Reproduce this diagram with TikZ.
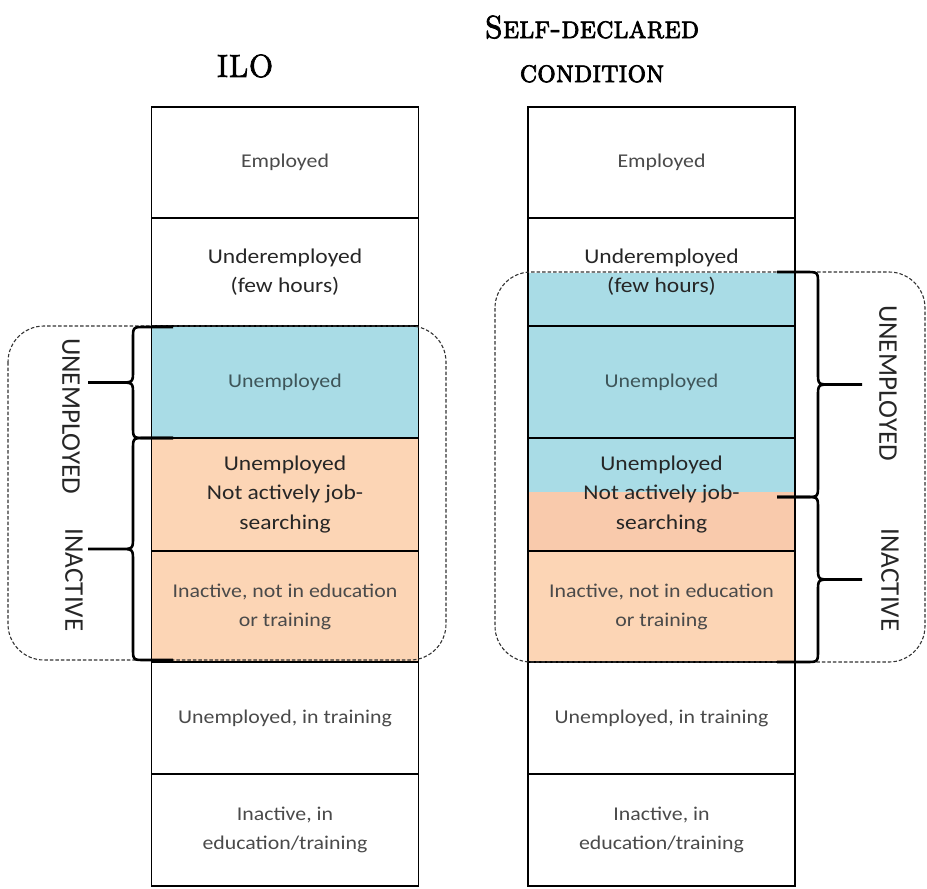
\documentclass[tikz,border=0pt]{standalone}
\usepackage{fontspec}
\usepackage{tikz}
\usetikzlibrary{positioning, backgrounds}
\newfontfamily\cellfont{Carlito}[FakeStretch=1.12]
\newfontfamily\sidefont{Carlito}
\newfontfamily\titlefont{lmromancaps10-regular}[Extension=.otf, FakeBold=2.2, FakeStretch=0.92]
\definecolor{unempblue}{HTML}{A9DCE6}
\definecolor{inactpeach}{HTML}{FCD5B5}
\definecolor{deeppeach}{HTML}{F9CAAC}
\definecolor{softtext}{HTML}{4A4A4A}
\definecolor{bluetext}{HTML}{3E5559}

\begin{document}
\begin{tikzpicture}[x=1pt, y=-1pt,
    cell/.style={rectangle, draw=black, line width=1.2pt, outer sep=0pt, inner sep=2pt,
      minimum width=267pt, align=center, text=softtext,
      font=\cellfont\fontsize{19.5}{29}\selectfont},
    bigcell/.style={cell, text=black!85, font=\cellfont\fontsize{21}{29.5}\selectfont},
    coltitle/.style={font=\titlefont\fontsize{32}{44}\selectfont, align=center},
    sidelabel/.style={rotate=-90, font=\sidefont\fontsize{27}{27}\selectfont, text=black!85},
    groupbox/.style={draw=black!80, line width=1.1pt, dash pattern=on 3.5pt off 2pt, rounded corners=36pt},
    catbrace/.style={draw=black, line width=2.6pt, line join=round}]
  \useasboundingbox (0,0) rectangle (927,889);

  % Titles
  \node[coltitle] (ilotitle) at (245,66) {ILO};
  \node[coltitle] (selftitle) at (592,49) {Self-declared\\condition};

  % ILO column
  \node[cell, minimum height=111pt] (iloemp) at (285,162.5) {Employed};
  \node[bigcell, minimum height=108pt, below=0pt of iloemp] (ilounder) {Underemployed\\(few hours)};
  \node[cell, fill=unempblue, text=bluetext, minimum height=112pt, below=0pt of ilounder] (ilounemp) {Unemployed};
  \node[bigcell, fill=inactpeach, minimum height=113pt, below=0pt of ilounemp] (ilonot) {Unemployed\\Not actively job-\\searching};
  \node[cell, fill=inactpeach, minimum height=111pt, below=0pt of ilonot] (iloinact) {Inactive, not in education\\or training};
  \node[cell, minimum height=112pt, below=0pt of iloinact] (ilotrain) {Unemployed, in training};
  \node[cell, minimum height=112pt, below=0pt of ilotrain] (iloedu) {Inactive, in\\education/training};

  % Self-declared column
  \node[cell, minimum height=111pt] (selfemp) at (661.5,162.5) {Employed};
  \node[bigcell, minimum height=108pt, below=0pt of selfemp] (selfunder) {Underemployed\\(few hours)};
  \node[cell, fill=unempblue, text=bluetext, minimum height=112pt, below=0pt of selfunder] (selfunemp) {Unemployed};
  \node[bigcell, minimum height=113pt, below=0pt of selfunemp] (selfnot) {Unemployed\\Not actively job-\\searching};
  \node[cell, fill=inactpeach, minimum height=111pt, below=0pt of selfnot] (selfinact) {Inactive, not in education\\or training};
  \node[cell, minimum height=112pt, below=0pt of selfinact] (selftrain) {Unemployed, in training};
  \node[cell, minimum height=112pt, below=0pt of selftrain] (selfedu) {Inactive, in\\education/training};

  % Split fills
  \begin{scope}[on background layer]
    \fill[unempblue] (selfunder.west |- 0,273) rectangle (selfunder.south east);
    \fill[unempblue] (selfnot.north west) rectangle (selfnot.east |- 0,492);
    \fill[deeppeach] (selfnot.west |- 0,492) rectangle (selfnot.south east);
  \end{scope}

  % Groups
  \draw[groupbox] (8,326) rectangle (446,660);
  \draw[groupbox] (495,272) rectangle (925,662);

  % Braces
  \foreach \xe/\xs/\xt/\ya/\yb in {173/133/88/327/438, 173/133/88/438/660,
      777/818/862/272/497, 777/818/862/497/662} {
    \pgfmathsetmacro\ym{(\ya+\yb)/2}
    \pgfmathsetmacro\xc{\xs+0.3*(\xt-\xs)}
    \pgfmathsetmacro\xd{\xs+0.3*(\xe-\xs)}
    \draw[catbrace] (\xe,\ya) -- (\xd,\ya) .. controls (\xs,\ya) .. (\xs,\ya+12)
      -- (\xs,\ym-12) .. controls (\xs,\ym) .. (\xc,\ym) -- (\xt,\ym)
      (\xc,\ym) .. controls (\xs,\ym) .. (\xs,\ym+12)
      -- (\xs,\yb-12) .. controls (\xs,\yb) .. (\xd,\yb) -- (\xe,\yb);
  }

  % Side labels
  \node[sidelabel] (ilounemplab) at (71,416) {UNEMPLOYED};
  \node[sidelabel] (iloinactlab) at (74,580) {INACTIVE};
  \node[sidelabel] (selfunemplab) at (888,383) {UNEMPLOYED};
  \node[sidelabel] (selfinactlab) at (890,580) {INACTIVE};
\end{tikzpicture}
\end{document}
